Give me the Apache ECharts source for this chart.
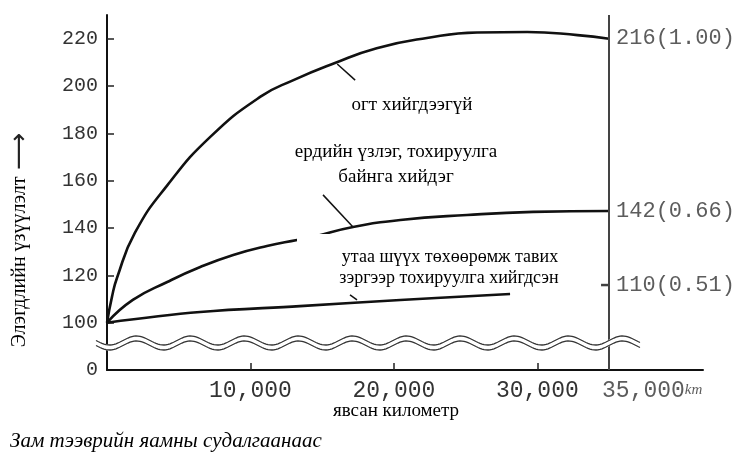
<!DOCTYPE html>
<html>
<head>
<meta charset="utf-8">
<script src="https://cdn.jsdelivr.net/npm/echarts@6/dist/echarts.min.js"></script>
<style>
  html, body { margin: 0; padding: 0; background: #fff; }
  #chart { width: 744px; height: 454px; }
</style>
</head>
<body>
<div id="chart"></div>
<script>
// гүйлт (км) ба элэгдлийн үзүүлэлт
var noMaint = [[0, 100], [350, 111], [700, 119], [1950, 138], [4200, 158], [7200, 178.5], [10700, 195.5], [13000, 202.5], [15800, 209.5], [18800, 216], [22300, 220.3], [25800, 222.6], [29300, 222.8], [32800, 221.5], [35000, 220]]
var regularMaint = [[0, 100], [1800, 109.6], [4200, 117.2], [6500, 123.5], [8800, 128.6], [11150, 132.4], [13250, 134.9], [14350, 136.2], [17150, 140.4], [20450, 143.4], [25100, 145.5], [29700, 146.8], [35000, 147.2]]
var filterMaint = [[0, 100], [6500, 104.5], [13450, 107], [20450, 109.6], [28100, 112.1]]
var xTickValues = [10000, 20000, 30000]
var xLabelValues = [10000, 20000, 30000]
var lastKm = 35000
var yLabelValues = [80, 100, 120, 140, 160, 180, 200, 220]
var yTickValues = [100, 120, 140, 160, 180, 200, 220]
var endValues = [220, 147.2, 115.9]
var endLabels = ['216(1.00)', '142(0.66)', '110(0.51)']

var chart = echarts.init(document.getElementById('chart'))

// тасархай тэнхлэгийн долгионт зураас
function wave (cy, amp) {
  var pts = []
  for (var x = 96; x <= 640; x += 2) {
    pts.push([x, cy + amp * Math.sin(2 * Math.PI * (x - 96) / 54)])
  }
  return pts
}

var lineStyle = { color: '#111', width: 2.6 }
var leader = { color: '#111', width: 1.5, type: 'solid' }
var serif = '"Liberation Serif", "DejaVu Serif", serif'
var mono = '"Liberation Mono", monospace'

function fmtKm (v) {
  return String(v).replace(/\B(?=(\d{3})+(?!\d))/g, ',')
}

chart.setOption({
  animation: false,
  grid: { left: 107, top: 15, width: 596, height: 355 },
  xAxis: {
    type: 'value',
    min: 0,
    max: 41550,
    splitLine: { show: false },
    axisLine: { lineStyle: { color: '#111', width: 2 } },
    axisTick: { inside: true, length: 7, customValues: xTickValues, lineStyle: { color: '#222', width: 1.5 } },
    axisLabel: {
      customValues: xLabelValues,
      margin: 9,
      color: '#333',
      fontFamily: mono,
      fontSize: 23,
      formatter: fmtKm
    }
  },
  yAxis: {
    type: 'value',
    min: 80,
    max: 230,
    splitLine: { show: false },
    axisLine: { show: true, lineStyle: { color: '#111', width: 2 } },
    axisTick: { show: true, inside: true, length: 7, customValues: yTickValues, lineStyle: { color: '#222', width: 1.5 } },
    axisLabel: {
      customValues: yLabelValues,
      margin: 9,
      color: '#333',
      fontFamily: mono,
      fontSize: 20,
      formatter: function (v) { return v === 80 ? '0' : String(v) }
    }
  },
  series: [
    {
      name: 'огт хийгдээгүй',
      type: 'line',
      data: noMaint,
      symbol: 'none',
      smooth: 0.5,
      lineStyle: lineStyle,
      markLine: {
        silent: true, symbol: ['none', 'none'], label: { show: false }, lineStyle: leader,
        data: [[{ coord: [16050, 209.3] }, { coord: [17300, 202.5] }]]
      }
    },
    {
      name: 'ердийн үзлэг, тохируулга байнга хийдэг',
      type: 'line',
      data: regularMaint,
      symbol: 'none',
      smooth: 0.5,
      lineStyle: lineStyle,
      markLine: {
        silent: true, symbol: ['none', 'none'], label: { show: false }, lineStyle: leader,
        data: [[{ coord: [15060, 154] }, { coord: [17150, 140.4] }]]
      }
    },
    {
      name: 'утаа шүүх төхөөрөмж тавих зэргээр тохируулга хийгдсэн',
      type: 'line',
      data: filterMaint,
      symbol: 'none',
      smooth: 0.4,
      lineStyle: lineStyle,
      markLine: {
        silent: true, symbol: ['none', 'none'], label: { show: false }, lineStyle: leader,
        data: [[{ coord: [16940, 111.7] }, { coord: [17430, 109.6] }]]
      }
    },
    {
      // баруун талын тэнхлэг ба утгууд
      type: 'scatter',
      silent: true,
      data: endValues.map(function (v, i) {
        return i === 2
          ? { value: [lastKm, v], symbol: 'rect', symbolSize: [8, 2.5], symbolOffset: [-4, 0], itemStyle: { color: '#111' } }
          : { value: [lastKm, v], symbolSize: 0 }
      }),
      label: {
        show: true,
        position: 'right',
        distance: 7,
        color: '#333',
        fontFamily: mono,
        fontSize: 22,
        formatter: function (p) { return endLabels[p.dataIndex] }
      },
      markLine: {
        silent: true, symbol: ['none', 'none'], label: { show: false },
        lineStyle: { color: '#444', width: 2, type: 'solid' },
        data: [{ xAxis: lastKm }]
      }
    },
    {
      // 35,000 км шошго
      type: 'scatter',
      silent: true,
      data: [{ value: [lastKm, 80], symbolSize: 0 }],
      label: {
        show: true,
        position: 'bottom',
        align: 'left',
        distance: 9,
        offset: [-7, 0],
        color: '#333',
        fontFamily: mono,
        fontSize: 23,
        formatter: function () { return fmtKm(lastKm) + '{k|km}' },
        rich: {
          k: { fontFamily: serif, fontStyle: 'italic', fontSize: 15, color: '#333' }
        }
      }
    }
  ],
  graphic: [
    { type: 'polyline', z: 100, shape: { points: wave(343, 4.5) }, style: { stroke: '#fff', lineWidth: 6, fill: null } },
    { type: 'polyline', z: 101, shape: { points: wave(340.5, 4.5) }, style: { stroke: '#333', lineWidth: 1.3, fill: null } },
    { type: 'polyline', z: 101, shape: { points: wave(345.5, 4.5) }, style: { stroke: '#333', lineWidth: 1.3, fill: null } },
    { type: 'rect', z: 110, shape: { x: 297, y: 234, width: 301, height: 57 }, style: { fill: '#fff' } },
    { type: 'text', z: 120, x: 412, y: 105, style: { text: 'огт хийгдээгүй', font: '19px ' + serif, fill: '#000', textAlign: 'center', textVerticalAlign: 'middle' } },
    { type: 'text', z: 120, x: 396, y: 152, style: { text: 'ердийн үзлэг, тохируулга', font: '19px ' + serif, fill: '#000', textAlign: 'center', textVerticalAlign: 'middle' } },
    { type: 'text', z: 120, x: 396, y: 177, style: { text: 'байнга хийдэг', font: '19px ' + serif, fill: '#000', textAlign: 'center', textVerticalAlign: 'middle' } },
    { type: 'text', z: 120, x: 450, y: 257, style: { text: 'утаа шүүх төхөөрөмж тавих', font: '18px ' + serif, fill: '#000', textAlign: 'center', textVerticalAlign: 'middle' } },
    { type: 'text', z: 120, x: 449, y: 278, style: { text: 'зэргээр тохируулга хийгдсэн', font: '18px ' + serif, fill: '#000', textAlign: 'center', textVerticalAlign: 'middle' } },
    { type: 'text', z: 120, x: 396, y: 411, style: { text: 'явсан километр', font: '19px ' + serif, fill: '#000', textAlign: 'center', textVerticalAlign: 'middle' } },
    { type: 'text', z: 120, x: 10, y: 441, style: { text: 'Зам тээврийн яамны судалгаанаас', font: 'italic 21px ' + serif, fill: '#000', textAlign: 'left', textVerticalAlign: 'middle' } },
    {
      type: 'text', z: 120, x: 20, y: 240, rotation: Math.PI / 2,
      style: {
        text: '{t|Элэгдлийн үзүүлэлт}  {a|⟶}',
        textAlign: 'center',
        textVerticalAlign: 'middle',
        rich: {
          t: { font: '20px ' + serif, fill: '#000' },
          a: { font: '26px "DejaVu Sans"', fill: '#222' }
        }
      }
    }
  ]
})
</script>
</body>
</html>
